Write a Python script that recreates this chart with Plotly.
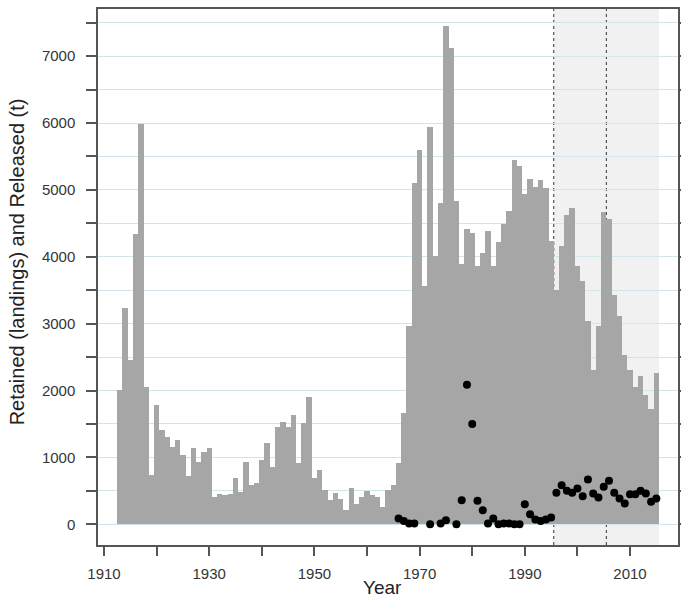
import plotly.graph_objects as go

years = list(range(1913, 2016))
retained = [
    2010, 3235, 2460, 4335, 5990, 2060, 735, 1785, 1410, 1310,   # 1913-1922
    1160, 1260, 1035, 720, 1135, 935, 1075, 1135, 410, 460,      # 1923-1932
    435, 460, 685, 490, 935, 590, 610, 960, 1210, 860,           # 1933-1942
    1460, 1535, 1460, 1635, 910, 1510, 1910, 685, 810, 510,      # 1943-1952
    360, 470, 385, 210, 535, 310, 410, 500, 435, 410,            # 1953-1962
    260, 510, 585, 910, 1660, 2960, 5110, 5590, 3560, 5935,      # 1963-1972
    4010, 4810, 7450, 7120, 4835, 3890, 4420, 4350, 3860, 4060,  # 1973-1982
    4385, 3860, 4220, 4485, 4680, 5450, 5360, 4940, 5160, 5050,  # 1983-1992
    5150, 5035, 4230, 3510, 4165, 4630, 4735, 3860, 3640, 3035,  # 1993-2002
    2310, 2960, 4670, 4560, 3435, 3110, 2535, 2310, 2060, 2220,  # 2003-2012
    1935, 1720, 2260,                                            # 2013-2015
]

released_years = [1966, 1967, 1968, 1969, 1972, 1974, 1975, 1977] + list(range(1978, 2016))
released = [
    85, 50, 10, 10, 0, 10, 60, 0,
    360, 2085, 1500, 350, 210, 10, 85, 0, 10, 10,   # 1978-1987
    0, 0, 300, 150, 70, 50, 70, 100, 470, 585,      # 1988-1997
    500, 470, 535, 420, 670, 460, 400, 560, 650, 470,  # 1998-2007
    385, 310, 450, 450, 500, 460, 335, 385,         # 2008-2015
]

x_ticks = list(range(1910, 2011, 10))
x_ticktext = [str(v) if (v - 1910) % 20 == 0 else "" for v in x_ticks]
y_ticks = list(range(0, 7501, 500))
y_ticktext = [str(v) if v % 1000 == 0 else "" for v in y_ticks]

period_edges = [1995.5, 2005.5, 2015.5]

fig = go.Figure()
fig.add_trace(go.Bar(
    x=years, y=retained, width=1.02,
    marker=dict(color="#a6a6a6", line=dict(width=0)),
    name="Retained", showlegend=False,
))
fig.add_trace(go.Scatter(
    x=released_years, y=released, mode="markers",
    marker=dict(color="black", size=8),
    name="Released", showlegend=False,
))

fig.add_shape(type="rect", xref="x", yref="paper", x0=period_edges[0], x1=period_edges[2],
              y0=0, y1=1, fillcolor="rgba(0,0,0,0.055)", line=dict(width=0), layer="below")
for xv in period_edges[:2]:
    fig.add_shape(type="line", xref="x", yref="paper", x0=xv, x1=xv, y0=0, y1=1,
                  line=dict(color="#333333", width=1, dash="dot"), layer="between")

font_family = "Liberation Sans, Arial, sans-serif"
fig.update_layout(
    width=681, height=597,
    margin=dict(l=98, r=3, t=9, b=52, autoexpand=False),
    plot_bgcolor="white", paper_bgcolor="white",
    bargap=0,
    font=dict(family=font_family, size=15, color="#353535"),
    xaxis=dict(
        range=[1908.86, 2019.12], tickvals=x_ticks, ticktext=x_ticktext,
        ticks="outside", ticklen=9, tickwidth=1.5, tickcolor="#555555",
        showline=True, linecolor="#555555", linewidth=1.5, mirror=True,
        showgrid=False, zeroline=False, automargin=False,
        ticklabelstandoff=5,
        tickfont=dict(size=15, color="#353535"),
    ),
    yaxis=dict(
        range=[-310, 7705], tickvals=y_ticks, ticktext=y_ticktext,
        ticks="outside", ticklen=10, tickwidth=1.5, tickcolor="#555555",
        showline=True, linecolor="#555555", linewidth=1.5, mirror="allticks",
        showgrid=True, gridcolor="#cfe7eb", gridwidth=1, zeroline=False, automargin=False,
        ticklabelstandoff=8,
        tickfont=dict(size=15, color="#353535"),
    ),
    annotations=[
        dict(text="Year", x=0.49, y=-0.08, xref="paper", yref="paper",
             xanchor="center", yanchor="middle", showarrow=False,
             font=dict(size=19, color="#222222")),
        dict(text="Retained (landings) and Released (t)", x=-0.139, y=0.528,
             xref="paper", yref="paper", textangle=-90,
             xanchor="center", yanchor="middle", showarrow=False,
             font=dict(size=20, color="#222222")),
    ],
)

fig.write_html("out.html", config={"displayModeBar": False},
               post_script="document.body.style.margin='0';document.body.style.overflow='hidden';")
